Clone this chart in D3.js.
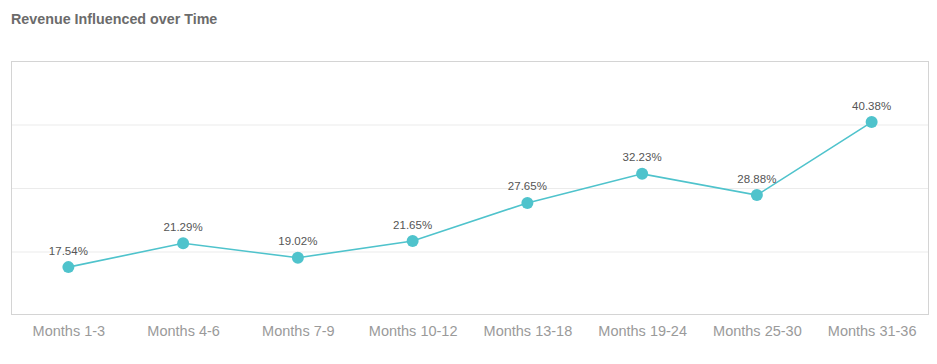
<!DOCTYPE html>
<html>
<head>
<meta charset="utf-8">
<script src="https://cdn.jsdelivr.net/npm/d3@7"></script>
<style>
  body { margin: 0; background: #fff; font-family: "Liberation Sans", Arial, sans-serif; }
</style>
</head>
<body>
<div id="chart"></div>
<script>
const categories = ['Months 1-3', 'Months 4-6', 'Months 7-9', 'Months 10-12',
  'Months 13-18', 'Months 19-24', 'Months 25-30', 'Months 31-36'];
const values = [17.54, 21.29, 19.02, 21.65, 27.65, 32.23, 28.88, 40.38];
const gridTicks = [20, 30, 40];

const W = 937, H = 364;
const m = { t: 61, r: 8, b: 49, l: 11 };
const w = W - m.l - m.r, h = H - m.t - m.b;

const svg = d3.select('#chart').append('svg').attr('width', W).attr('height', H);

svg.append('text').attr('x', 11).attr('y', 23.5)
  .attr('font-size', 14.3).attr('font-weight', 700).attr('fill', '#6b6b6b')
  .text('Revenue Influenced over Time');

const g = svg.append('g').attr('transform', `translate(${m.l},${m.t})`);

const x = d3.scalePoint().domain(categories).range([0, w]).padding(0.5);
const y = d3.scaleLinear().domain([10, 50]).range([h, 0]);

// gridlines
g.append('g')
  .call(d3.axisLeft(y).tickValues(gridTicks).tickSize(-w).tickFormat(''))
  .call(s => s.select('.domain').remove())
  .call(s => s.selectAll('line').attr('stroke', '#ebebeb'));

// frame
g.append('rect').attr('x', 0.5).attr('y', 0.5).attr('width', w - 1).attr('height', h - 1)
  .attr('fill', 'none').attr('stroke', '#d4d4d4');

// x axis labels
g.append('g').attr('transform', `translate(0,${h})`)
  .call(d3.axisBottom(x).tickSize(0).tickPadding(11))
  .call(s => s.select('.domain').remove())
  .call(s => s.selectAll('text').attr('font-size', 14.5).attr('fill', '#9a9a9a')
    .attr('font-family', '"Liberation Sans", Arial, sans-serif'));

const data = categories.map((c, i) => ({ c, v: values[i] }));

g.append('path').datum(data)
  .attr('fill', 'none').attr('stroke', '#4fc3cc').attr('stroke-width', 1.6)
  .attr('d', d3.line().x(d => x(d.c)).y(d => y(d.v)));

g.selectAll('circle.pt').data(data).join('circle').attr('class', 'pt')
  .attr('cx', d => x(d.c)).attr('cy', d => y(d.v)).attr('r', 6)
  .attr('fill', '#4fc3cc');

g.selectAll('text.lbl').data(data).join('text').attr('class', 'lbl')
  .attr('x', d => x(d.c)).attr('y', d => y(d.v) - 12.5)
  .attr('text-anchor', 'middle').attr('font-size', 11.5).attr('fill', '#555')
  .text(d => d.v.toFixed(2) + '%');
</script>
</body>
</html>
